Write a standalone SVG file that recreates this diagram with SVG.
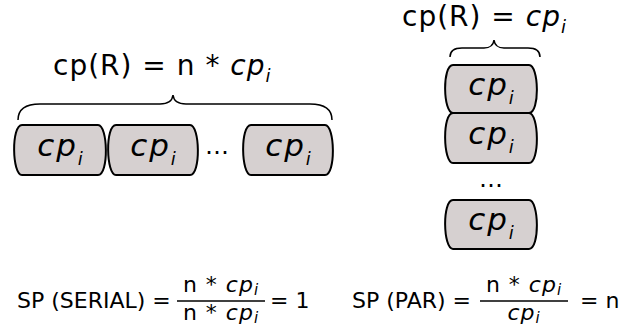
<svg xmlns="http://www.w3.org/2000/svg" width="630" height="331" viewBox="0 0 630 331">
<style>
text{font-family:"DejaVu Sans","Liberation Sans",sans-serif;fill:#000}
.t{font-size:28px;letter-spacing:1px}
.f{font-size:22px}
.b{font-size:31px;font-style:italic;letter-spacing:2px}
.it{font-style:italic}
.box{fill:#d6d0d0;stroke:#000;stroke-width:2}
.br{fill:none;stroke:#000;stroke-width:1.5}
.ln{stroke:#000;stroke-width:1.5}
</style>
<rect width="630" height="331" fill="#fff"/>
<g id="title-serial"><text class="t" x="53" y="75">cp(R) = n * <tspan class="it">cp</tspan><tspan class="it" font-size="18" dy="7">i</tspan></text></g>
<g id="title-par"><text class="t" x="402" y="26">cp(R) = <tspan class="it">cp</tspan><tspan class="it" font-size="18" dy="7">i</tspan></text></g>
<g id="connectors">
<path class="br" d="M18 120 Q18 104 40 104 H160 Q172 104 173 95 Q174 104 186 104 H310 Q332 104 332 120"/>
<path class="br" d="M450 57 Q450 48 462 48 H484 Q493 48 494 40 Q495 48 504 48 H528 Q540 48 540 57"/>
</g>
<g id="s1"><path class="box" d="M22 125 H98 C108 125 109 175 98 175 H22 C12 175 11 125 22 125 Z"/><text class="b" x="61" y="156" text-anchor="middle">cp<tspan font-size="18" dy="9">i</tspan></text></g>
<g id="s2"><path class="box" d="M116 125 H190 C200 125 201 175 190 175 H116 C106 175 105 125 116 125 Z"/><text class="b" x="154" y="156" text-anchor="middle">cp<tspan font-size="18" dy="9">i</tspan></text></g>
<g id="sdots"><text x="205" y="154" font-size="24">…</text></g>
<g id="s3"><path class="box" d="M251 125 H325 C335 125 336 175 325 175 H251 C241 175 240 125 251 125 Z"/><text class="b" x="289" y="156" text-anchor="middle">cp<tspan font-size="18" dy="9">i</tspan></text></g>
<g id="p1"><path class="box" d="M453 65 H529 C539 65 540 113 529 113 H453 C443 113 442 65 453 65 Z"/><text class="b" x="492" y="95" text-anchor="middle">cp<tspan font-size="18" dy="9">i</tspan></text></g>
<g id="p2"><path class="box" d="M453 113 H529 C539 113 540 163 529 163 H453 C443 163 442 113 453 113 Z"/><text class="b" x="492" y="144" text-anchor="middle">cp<tspan font-size="18" dy="9">i</tspan></text></g>
<g id="pdots"><text x="479" y="187" font-size="24">…</text></g>
<g id="p3"><path class="box" d="M453 200 H529 C539 200 540 249 529 249 H453 C443 249 442 200 453 200 Z"/><text class="b" x="492" y="230" text-anchor="middle">cp<tspan font-size="18" dy="9">i</tspan></text></g>
<g id="sp-serial">
<text class="f" x="17" y="308">SP (SERIAL) =</text>
<text class="f" x="221" y="292" text-anchor="middle" letter-spacing="1">n * <tspan class="it">cp</tspan><tspan class="it" font-size="15" dy="3">i</tspan></text>
<line class="ln" x1="177" y1="301" x2="265" y2="301"/>
<text class="f" x="221" y="320" text-anchor="middle" letter-spacing="1">n * <tspan class="it">cp</tspan><tspan class="it" font-size="15" dy="3">i</tspan></text>
<text class="f" x="270" y="308">= 1</text>
</g>
<g id="sp-par">
<text class="f" x="352" y="308">SP (PAR) =</text>
<text class="f" x="524" y="292" text-anchor="middle" letter-spacing="1">n * <tspan class="it">cp</tspan><tspan class="it" font-size="15" dy="3">i</tspan></text>
<line class="ln" x1="480" y1="301" x2="568" y2="301"/>
<text class="f" x="524" y="320" text-anchor="middle" letter-spacing="1"><tspan class="it">cp</tspan><tspan class="it" font-size="15" dy="3">i</tspan></text>
<text class="f" x="580" y="308">= n</text>
</g>
</svg>
